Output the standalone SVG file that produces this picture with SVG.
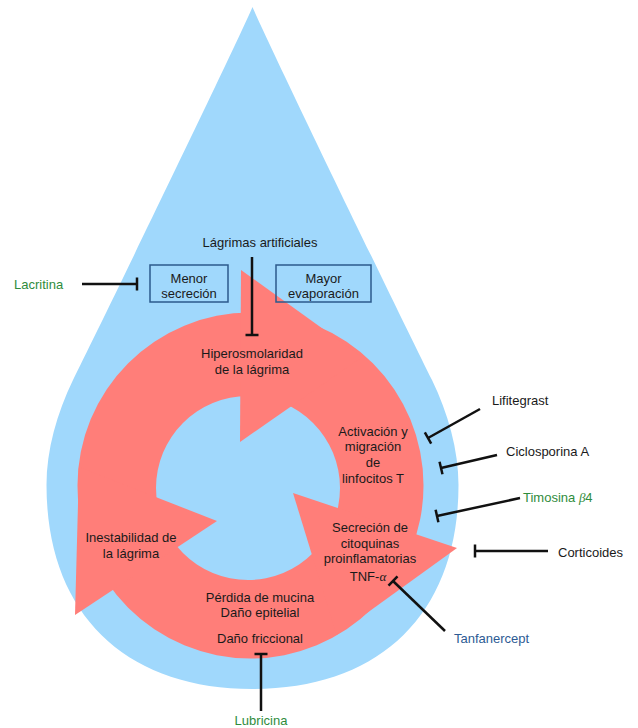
<svg xmlns="http://www.w3.org/2000/svg" width="638" height="728" viewBox="0 0 638 728">
<style>
text{font-family:"Liberation Sans",Arial,Helvetica,sans-serif;font-size:13px;fill:#1a1a1a}
.c{text-anchor:middle}
.g{fill:#2f8c3c}
.b{fill:#2d5b94}
.m{font-family:"Liberation Serif","Times New Roman",serif;font-style:italic}
.red{fill:#ff7e79}
.box{fill:none;stroke:#2b5a8c;stroke-width:1.5}
.inh{stroke:#111;stroke-width:2.5;fill:none;marker-end:url(#tee)}
</style>
<defs>
<marker id="tee" markerUnits="userSpaceOnUse" orient="auto" markerWidth="6" markerHeight="16" refX="3" refY="8" viewBox="0 0 6 16">
<path d="M3,1.5 V14.5" stroke="#111" stroke-width="2.5"/>
</marker>
</defs>
<g id="drop">
<path d="M252.5,7 C235.3,47 103,320 73,380 C57,413 46.5,450 46.5,485 C46.5,613 124.5,689 252.5,689 C380.5,689 458.5,613 458.5,485 C458.5,450 448,413 432,380 C402,320 269.7,47 252.5,7 Z" fill="#a0d8fc"/>
</g>
<g id="cycle">
<path class="red" fill-rule="evenodd" d="M77.5,485.5 a173,173 0 1,0 346,0 a173,173 0 1,0 -346,0 Z M156,488 a92,92 0 1,0 184,0 a92,92 0 1,0 -184,0 Z"/>
<polygon class="red" points="241,270 240,442 362,357"/>
<polygon class="red" points="293,493 457,548 336.5,635"/>
<polygon class="red" points="217,521 75,615 79,467"/>
</g>
<g id="connectors">
<line class="inh" x1="82" y1="284" x2="137" y2="284"/>
<line class="inh" x1="252" y1="257" x2="252" y2="335"/>
<line class="inh" x1="480" y1="409" x2="428" y2="438"/>
<line class="inh" x1="497" y1="455" x2="441" y2="468"/>
<line class="inh" x1="520" y1="498" x2="437" y2="516"/>
<line class="inh" x1="548" y1="551" x2="475" y2="551"/>
<line class="inh" x1="445" y1="631" x2="393" y2="581"/>
<line class="inh" x1="261" y1="711" x2="261" y2="654"/>
</g>
<g id="lagrimas-artificiales"><text class="c" x="260" y="246.5">Lágrimas artificiales</text></g>
<g id="lacritina"><text class="g" x="14" y="288.5">Lacritina</text></g>
<g id="menor-secrecion">
<rect class="box" x="150" y="265" width="78" height="37"/>
<text class="c" x="189" y="282.5">Menor</text>
<text class="c" x="189" y="297.5">secreción</text>
</g>
<g id="mayor-evaporacion">
<rect class="box" x="276" y="265" width="95" height="37"/>
<text class="c" x="323.5" y="282.5">Mayor</text>
<text class="c" x="323.5" y="297.5">evaporación</text>
</g>
<g id="hiperosmolaridad">
<text class="c" x="252" y="358">Hiperosmolaridad</text>
<text class="c" x="252" y="374">de la lágrima</text>
</g>
<g id="activacion">
<text class="c" x="373" y="435.5">Activación y</text>
<text class="c" x="373" y="451">migración</text>
<text class="c" x="373" y="467">de</text>
<text class="c" x="373" y="483">linfocitos T</text>
</g>
<g id="secrecion">
<text class="c" x="370" y="531.5">Secreción de</text>
<text class="c" x="370" y="547.5">citoquinas</text>
<text class="c" x="370" y="563">proinflamatorias</text>
<text class="c" x="368" y="580.5">TNF-<tspan class="m">α</tspan></text>
</g>
<g id="inestabilidad">
<text class="c" x="131" y="541.5">Inestabilidad de</text>
<text class="c" x="131" y="557.5">la lágrima</text>
</g>
<g id="perdida">
<text class="c" x="260" y="601.5">Pérdida de mucina</text>
<text class="c" x="260" y="617">Daño epitelial</text>
<text class="c" x="260" y="642.5">Daño friccional</text>
</g>
<g id="lifitegrast"><text x="492" y="404.5">Lifitegrast</text></g>
<g id="ciclosporina"><text x="506" y="455.5">Ciclosporina A</text></g>
<g id="timosina"><text class="g" x="523" y="501.5">Timosina <tspan class="m">β</tspan>4</text></g>
<g id="corticoides"><text x="558" y="556.5">Corticoides</text></g>
<g id="tanfanercept"><text class="b" x="454" y="642.5">Tanfanercept</text></g>
<g id="lubricina"><text class="g c" x="261" y="725">Lubricina</text></g>
</svg>
